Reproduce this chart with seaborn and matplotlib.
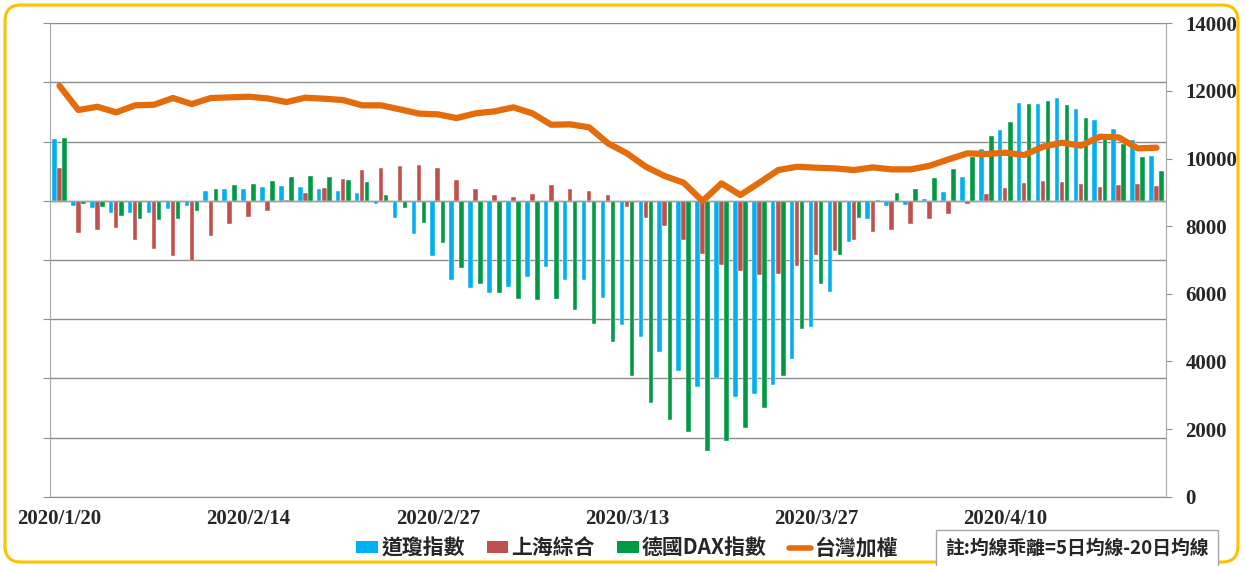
import numpy as np
import pandas as pd
import matplotlib
matplotlib.use('Agg')
import matplotlib.pyplot as plt
from matplotlib.patches import Patch, FancyBboxPatch
from matplotlib.lines import Line2D
from matplotlib.font_manager import FontProperties
import seaborn as sns

# 均線乖離 (%) 與台灣加權指數
dow = [5.2, -0.4, -0.6, -1.0, -1.0, -1.0, -0.7, -0.45, 0.87, 0.96,
       0.96, 1.16, 1.24, 1.18, 1.0, 0.87, 0.62, -0.28, -1.47, -2.8,
       -4.7, -6.7, -7.4, -7.76, -7.3, -6.46, -5.6, -6.7, -6.66, -8.24,
       -10.5, -11.5, -12.8, -14.4, -15.7, -15.0, -16.6, -16.3, -15.6, -13.4,
       -10.7, -7.7, -3.5, -1.55, -0.42, -0.37, 0.17, 0.76, 2.05, 4.4,
       5.95, 8.3, 8.15, 8.7, 7.8, 6.85, 6.1, 5.1, 3.77]
shanghai = [2.8, -2.7, -2.5, -2.3, -3.3, -4.1, -4.7, -5.1, -3.0, -2.0,
            -1.4, -0.87, 0.05, 0.62, 1.1, 1.86, 2.6, 2.8, 2.96, 3.05,
            2.74, 1.8, 0.98, 0.53, 0.36, 0.56, 1.3, 1.0, 0.87, 0.53,
            -0.48, -1.44, -2.15, -3.27, -4.5, -5.4, -5.96, -6.26, -6.2, -5.5,
            -4.6, -4.26, -3.3, -2.66, -2.5, -1.92, -1.52, -1.1, -0.25, 0.6,
            1.1, 1.5, 1.66, 1.6, 1.44, 1.18, 1.3, 1.46, 1.24]
dax = [5.3, -0.25, -0.5, -1.3, -1.5, -1.6, -1.5, -0.85, 1.0, 1.3,
       1.44, 1.7, 2.0, 2.06, 2.0, 1.78, 1.55, 0.5, -0.62, -1.9,
       -3.55, -5.67, -7.05, -7.8, -8.3, -8.4, -8.3, -9.2, -10.4, -11.9,
       -14.8, -17.1, -18.5, -19.5, -21.1, -20.3, -19.2, -17.5, -14.8, -10.8,
       -7.0, -4.6, -1.47, 0.05, 0.68, 1.0, 1.9, 2.7, 3.7, 5.44,
       6.7, 8.15, 8.4, 8.06, 6.96, 5.2, 4.76, 3.7, 2.54]
taiex = [12153, 11435, 11532, 11367, 11574, 11592, 11790, 11612, 11790, 11810,
         11828, 11780, 11671, 11800, 11770, 11730, 11574, 11574, 11455, 11330,
         11307, 11198, 11337, 11396, 11515, 11337, 11000, 11012, 10923, 10450,
         10154, 9758, 9483, 9285, 8744, 9266, 8922, 9285, 9660, 9758,
         9730, 9709, 9660, 9738, 9680, 9680, 9787, 9975, 10154, 10134,
         10173, 10104, 10350, 10469, 10380, 10646, 10626, 10302, 10321]
tick_pos = [0, 10, 20, 30, 40, 50]
tick_labels = ['2020/1/20', '2020/2/14', '2020/2/27', '2020/3/13', '2020/3/27', '2020/4/10']

series = ['道瓊指數', '上海綜合', '德國DAX指數']
colors = ['#00B0F0', '#C0504D', '#009A44']
line_color = '#E46C0A'
grid_color = '#8C8C8C'

n = len(dow)
df = pd.DataFrame({
    'day': list(range(n)) * 3,
    'series': [s for s in series for _ in range(n)],
    'value': dow + shanghai + dax,
})

sns.set_style('white')
cjk = ['Noto Sans CJK TC', 'DejaVu Sans']
num_font = FontProperties(family='Liberation Serif', weight='bold', size=15)

fig = plt.figure(figsize=(12.46, 5.66), dpi=100)
ax = fig.add_axes([50 / 1246, 1 - 496.7 / 566, 1116 / 1246, 473.4 / 566])

sns.barplot(data=df, x='day', y='value', hue='series', hue_order=series,
            palette=colors, gap=0.1, width=0.8, saturation=1, ax=ax,
            legend=False, edgecolor='white', linewidth=0.3)
ax.set_xlim(-0.5, n - 0.5)
ax.set_ylim(-25, 15)
ax.set_yticks(np.arange(-25, 16, 5))
ax.yaxis.grid(True, color=grid_color, lw=1.0)
ax.set_axisbelow(True)
ax.axhline(0, color='#A0A0A0', lw=1.0, zorder=3)
ax.tick_params(axis='y', left=True, length=5, color=grid_color, labelleft=False)
ax.set_xticks(tick_pos)
ax.set_xticklabels(tick_labels, fontproperties=num_font)
ax.tick_params(axis='x', length=0, pad=9)
ax.set_xlabel('')
ax.set_ylabel('')
for s in ['top', 'right']:
    ax.spines[s].set_visible(False)
ax.spines['left'].set_color('#A6A6A6')
ax.spines['bottom'].set_color(grid_color)

ax2 = ax.twinx()
sns.lineplot(x=list(range(n)), y=taiex, ax=ax2, color=line_color, lw=4.5)
ax2.set_ylim(0, 14000)
ax2.set_yticks(np.arange(0, 14001, 2000))
ax2.set_yticklabels([str(v) for v in range(0, 14001, 2000)], fontproperties=num_font)
ax2.tick_params(axis='y', right=True, length=4, color=grid_color, pad=10)
for s in ['top', 'left', 'bottom']:
    ax2.spines[s].set_visible(False)
ax2.spines['right'].set_color('#A6A6A6')
ax2.grid(False)
ax2.set_xlim(-0.5, n - 0.5)

handles = [Patch(facecolor=c, edgecolor='none') for c in colors]
handles.append(Line2D([0], [0], color=line_color, lw=4))
fig.legend(handles, series + ['台灣加權'], loc='center', bbox_to_anchor=(0.503, 0.032),
           ncol=4, frameon=False, handlelength=1.05, handleheight=0.45,
           handletextpad=0.15, columnspacing=1.05,
           prop=FontProperties(family=cjk, weight='bold', size=15))

fig.text(1077 / 1246, 0.031, '註:均線乖離=5日均線-20日均線', ha='center', va='center',
         family=cjk, weight='bold', fontsize=13.5,
         bbox=dict(boxstyle='square,pad=0.5', fc='white', ec='#A6A6A6', lw=1))

frame = FancyBboxPatch((0.05, 0.04), 12.33, 5.57, boxstyle='round,pad=0,rounding_size=0.16',
                       transform=fig.dpi_scale_trans, fill=False, ec='#FFC000', lw=2.2)
fig.patches.append(frame)

fig.savefig('out.png', dpi=100)
